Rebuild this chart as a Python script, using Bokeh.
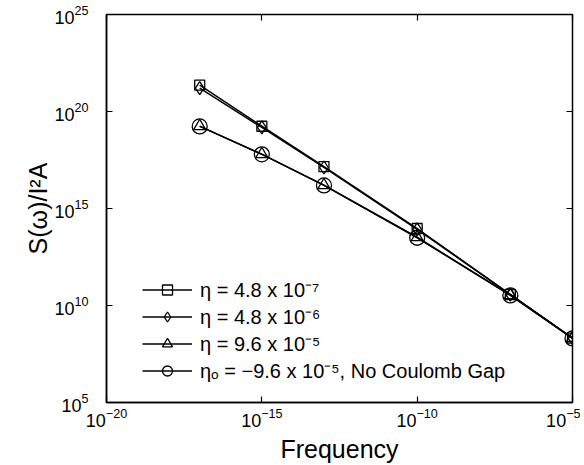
from bokeh.plotting import figure
from bokeh.models import FixedTicker, LogAxis, Legend, LegendItem, CustomJSTickFormatter
from bokeh.embed import file_html
from bokeh.resources import INLINE

freq = [1e-17, 1e-15, 1e-13, 1e-10, 1e-7, 1e-5]
s_sq = [2.3e21, 1.74e19, 1.45e17, 9.3e13, 3.7e10, 2.1e8]
s_di = [1.6e21, 1.5e19, 1.3e17, 8.5e13, 3.6e10, 2.1e8]
s_tr = [1.75e19, 6.3e17, 1.6e16, 3.3e13, 3.4e10, 2.1e8]
s_ci = [1.7e19, 6.2e17, 1.55e16, 3.1e13, 3.3e10, 2.0e8]

labels = ["η = 4.8 x 10⁻⁷", "η = 4.8 x 10⁻⁶", "η = 9.6 x 10⁻⁵",
          "ηₒ = −9.6 x 10⁻⁵, No Coulomb Gap"]
x_ticks = [1e-20, 1e-15, 1e-10, 1e-5]
y_ticks = [1e5, 1e10, 1e15, 1e20, 1e25]

FONT = "Liberation Sans"

p = figure(width=580, height=465, x_axis_type="log", y_axis_type="log",
           x_range=(1e-20, 1e-5), y_range=(1e5, 1e25),
           output_backend="svg", toolbar_location=None,
           min_border_left=106, min_border_right=8, min_border_top=14,
           min_border_bottom=63)
p.grid.visible = False
p.outline_line_color = "black"
p.outline_line_width = 1.5
p.background_fill_color = "white"
p.border_fill_color = "white"

for ax in (p.xaxis[0], p.yaxis[0]):
    ax.major_tick_in = 6
    ax.major_tick_out = 0
    ax.minor_tick_in = 0
    ax.minor_tick_out = 0
    ax.axis_line_width = 1.5
    ax.major_tick_line_width = 1.2
    ax.major_label_text_font = FONT
    ax.major_label_text_font_size = "18px"
    ax.major_label_text_color = "black"
    ax.axis_label_text_font = FONT
    ax.axis_label_text_font_style = "normal"
    ax.axis_label_text_color = "black"

p.xaxis.ticker = FixedTicker(ticks=x_ticks, minor_ticks=[])
p.yaxis.ticker = FixedTicker(ticks=y_ticks, minor_ticks=[])
p.xaxis.axis_label = "Frequency"
p.yaxis.axis_label = "S(ω)/I²A"
p.xaxis.axis_label_text_font_size = "25px"
p.yaxis.axis_label_text_font_size = "25px"
p.xaxis.major_label_standoff = 5
p.yaxis.major_label_standoff = 18
p.xaxis.axis_label_standoff = 5
p.yaxis.axis_label_standoff = -1

blank = CustomJSTickFormatter(code="return ''")
top = LogAxis(ticker=FixedTicker(ticks=x_ticks, minor_ticks=[]), formatter=blank,
              major_tick_in=6, major_tick_out=0, minor_tick_in=0, minor_tick_out=0,
              major_label_standoff=0, axis_line_color=None, major_tick_line_width=1.2)
right = LogAxis(ticker=FixedTicker(ticks=y_ticks, minor_ticks=[]), formatter=blank,
                major_tick_in=6, major_tick_out=0, minor_tick_in=0, minor_tick_out=0,
                major_label_standoff=0, axis_line_color=None, major_tick_line_width=1.2)
p.add_layout(top, "above")
p.add_layout(right, "right")

series = [(s_sq, "square", 10), (s_di, "diamond", 13), (s_tr, "triangle", 12),
          (s_ci, "circle", 15)]
items = []
for (ys, marker, size), lab in zip(series, labels):
    r_line = p.line(freq, ys, line_color="black", line_width=1.5)
    r_pts = p.scatter(freq, ys, marker=marker, size=size, line_color="black",
                      line_width=1.3, fill_alpha=0)
    items.append(LegendItem(label=lab, renderers=[r_line, r_pts]))

legend = Legend(items=items, location=(36, 18), border_line_color=None,
                background_fill_alpha=0, padding=0, margin=0, spacing=-2,
                glyph_width=50, glyph_height=25, label_height=25,
                label_text_font=FONT, label_text_font_size="20px",
                label_text_color="black", label_standoff=8)
p.add_layout(legend, "center")

open("out.html", "w").write(file_html(p, INLINE))
